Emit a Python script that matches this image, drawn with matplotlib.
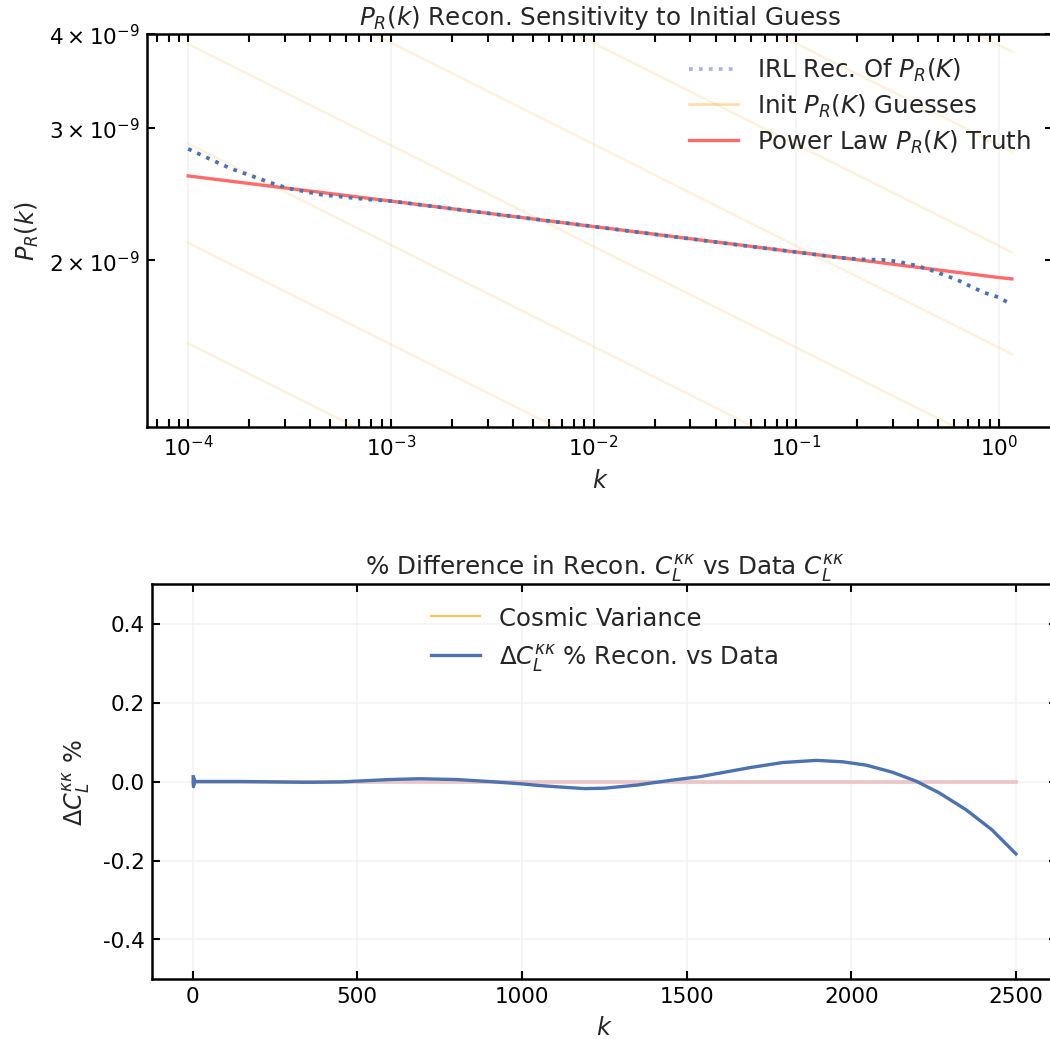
import matplotlib
matplotlib.use("Agg")
import matplotlib.pyplot as plt

plt.rcParams["axes.unicode_minus"] = False
plt.rcParams["font.family"] = "DejaVu Sans"

TEXT = "#262626"

# top panel: primordial power spectrum
k_truth = [1e-4, 1e-3, 1e-2, 1e-1, 1.0, 1.16]
pk_truth = [2.59e-9, 2.398e-9, 2.218e-9, 2.051e-9, 1.897e-9, 1.889e-9]

k_rec = [1e-4, 1.27e-4, 1.63e-4, 2.04e-4, 2.62e-4, 3.11e-4, 4.52e-4, 7.7e-4,
         1e-3, 1e-2, 5e-2, 1e-1, 0.165, 0.207, 0.269, 0.318, 0.378, 0.449,
         0.526, 0.625, 0.726, 0.843, 1.0, 1.16]
pk_rec = [2.814e-9, 2.730e-9, 2.648e-9, 2.592e-9, 2.530e-9, 2.494e-9, 2.446e-9, 2.410e-9,
          2.398e-9, 2.218e-9, 2.099e-9, 2.051e-9, 2.016e-9, 2.006e-9, 2.002e-9, 1.992e-9,
          1.972e-9, 1.946e-9, 1.916e-9, 1.883e-9, 1.846e-9, 1.812e-9, 1.785e-9, 1.745e-9]

# initial guesses: value at k=1e-4 and at k=1.16
k_guess = [1e-4, 1.16]
guess_lo = [1.341e-8, 9.89e-9, 7.24e-9, 5.32e-9, 3.88e-9, 2.86e-9, 2.11e-9, 1.55e-9]
guess_hi = [3.79e-9, 2.79e-9, 2.05e-9, 1.50e-9, 1.10e-9, 8.08e-10, 5.96e-10, 4.38e-10]

# bottom panel: % difference in C_L^kk
ell = [2, 3, 4, 5, 6, 8, 50, 150, 250, 350, 450, 550, 600, 690, 800, 900, 1000,
       1050, 1100, 1190, 1250, 1300, 1350, 1400, 1470, 1539, 1691, 1791, 1894,
       1973, 2045, 2124, 2197, 2267, 2348, 2427, 2500]
dcl = [0.012, -0.013, 0.008, -0.006, 0.003, 0.0, 0.0, 0.0, -0.001, -0.002, -0.001,
       0.003, 0.005, 0.007, 0.005, 0.0, -0.006, -0.010, -0.013, -0.018, -0.017,
       -0.013, -0.009, -0.003, 0.005, 0.012, 0.035, 0.048, 0.0535, 0.050, 0.0415,
       0.0237, 0.0008, -0.0288, -0.0713, -0.1223, -0.1834]
ell_cv = [2, 2500]
cv = [0.0, 0.0]

fig = plt.figure(figsize=(7, 6.933), dpi=150)
ax1 = fig.add_axes([0.140, 0.5885, 0.863, 0.3778])
ax2 = fig.add_axes([0.1448, 0.0577, 0.862, 0.3798])

for i, (lo, hi) in enumerate(zip(guess_lo, guess_hi)):
    ax1.plot(k_guess, [lo, hi], c="#FFB347", alpha=0.18, lw=1.2,
             label="Init $P_R(K)$ Guesses" if i == 0 else None, zorder=1)
ax1.plot(k_truth, pk_truth, c="#FF6B6B", lw=1.6, label="Power Law $P_R(K)$ Truth", zorder=2)
ax1.plot(k_rec, pk_rec, c="#4C72B0", lw=1.8, ls=":", label="IRL Rec. Of $P_R(K)$", zorder=3)
ax1.set_xscale("log")
ax1.set_yscale("log")
ax1.set_ylim(1.2e-9, 4e-9)
ax1.set_title("$P_R(k)$ Recon. Sensitivity to Initial Guess", fontsize=11.8, color=TEXT, pad=5)
ax1.set_xlabel("$k$", fontsize=11.5, color=TEXT)
ax1.set_ylabel("$P_R(k)$", fontsize=11.5, color=TEXT)
h, l = ax1.get_legend_handles_labels()
order = [2, 0, 1]
leg1 = ax1.legend([h[i] for i in order], [l[i] for i in order], loc="upper right",
                  frameon=False, fontsize=11.7, labelcolor=TEXT, handlelength=2.0,
                  labelspacing=0.35)
leg1.legend_handles[0].set_alpha(0.5)
leg1.legend_handles[1].set_alpha(0.5)

ax2.plot(ell_cv, cv, c="#FFC04D", lw=1.0, label="Cosmic Variance", zorder=1)
ax2.plot(ell_cv, cv, c="#EBC6C6", lw=1.8, zorder=2)
ax2.plot(ell, dcl, c="#4C72B0", lw=1.6, label="$\\Delta C_L^{\\kappa\\kappa}$ % Recon. vs Data", zorder=3)
ax2.set_ylim(-0.5, 0.5)
ax2.set_yticks([-0.4, -0.2, 0.0, 0.2, 0.4])
ax2.set_title("% Difference in Recon. $C_L^{\\kappa\\kappa}$ vs Data $C_L^{\\kappa\\kappa}$",
              fontsize=11.8, color=TEXT, pad=5)
ax2.set_xlabel("$k$", fontsize=11.5, color=TEXT)
ax2.set_ylabel("$\\Delta C_L^{\\kappa\\kappa}$ %", fontsize=11.5, color=TEXT, labelpad=5)
ax2.legend(loc="upper center", frameon=False, fontsize=11.7, labelcolor=TEXT, handlelength=2.0)

for ax in (ax1, ax2):
    ax.grid(True, which="major", color="#F3F3F3", lw=0.8)
    ax.set_axisbelow(True)
    ax.tick_params(which="both", direction="in", top=True, right=True,
                   length=4, width=1, labelsize=10.3, colors="black")
    for s in ax.spines.values():
        s.set_linewidth(1.2)

fig.savefig("out.png", dpi=150)
